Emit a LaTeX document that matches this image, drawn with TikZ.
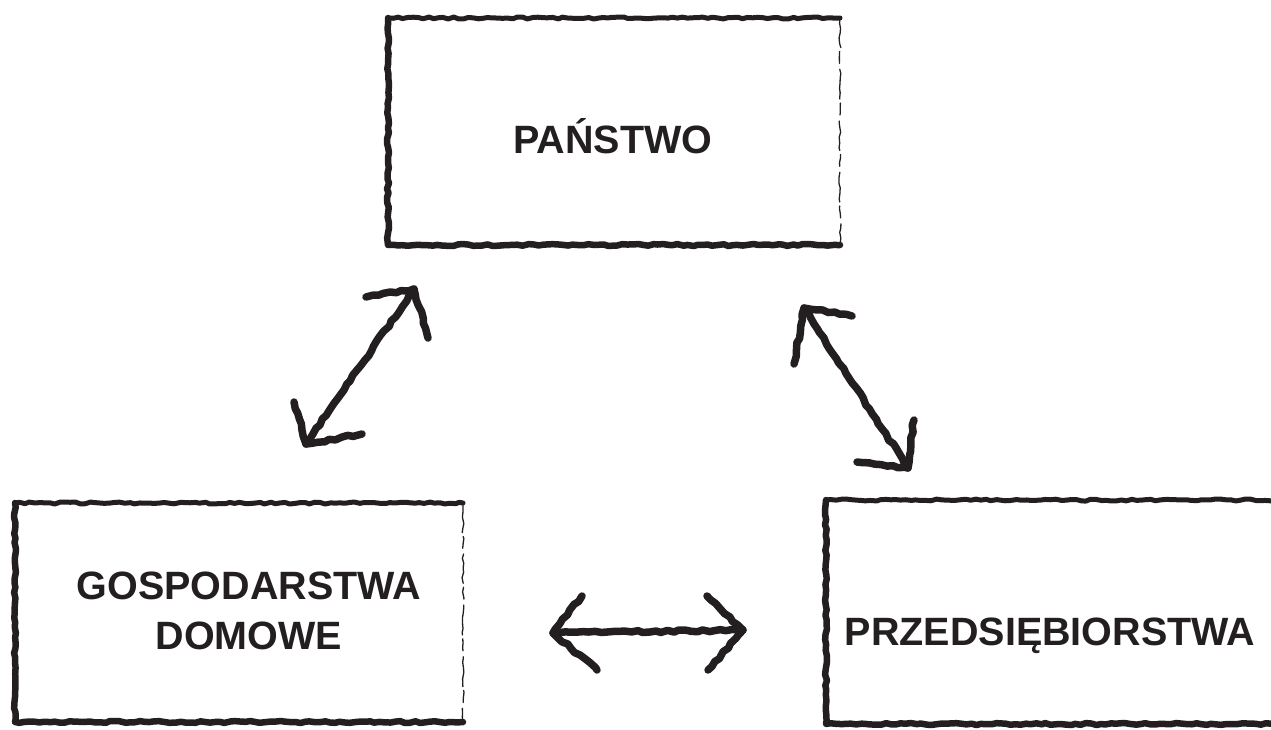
\documentclass[tikz,border=0pt]{standalone}
\usepackage{fontspec}
\setmainfont{Liberation Sans}
\usetikzlibrary{decorations.pathmorphing}
\definecolor{ink}{HTML}{231F20}
\begin{document}
\begin{tikzpicture}[x=1pt,y=-1pt,
  inkline/.style={draw=ink, line cap=round, line join=round, decorate,
    decoration={random steps, segment length=5pt, amplitude=1pt}},
  thickedge/.style={inkline, line width=6.5pt},
  topedge/.style={inkline, line width=5pt},
  thinedge/.style={inkline, line width=1.3pt, dash pattern=on 30pt off 4pt on 12pt off 6pt},
  arrowline/.style={inkline, line width=7.5pt,
    decoration={random steps, segment length=6pt, amplitude=1.2pt}},
  boxnode/.style={draw=none, inner sep=0pt, outer sep=0pt},
  lbl/.style={font=\bfseries\fontsize{39.5}{50}\selectfont, text=ink, align=center, inner sep=0pt}
]
\pgfmathsetseed{7}
\useasboundingbox (0,0) rectangle (1271,729);

% boxes
\node[boxnode, minimum width=452pt, minimum height=227pt] (pbox) at (614,131.5) {};
\node[boxnode, minimum width=448pt, minimum height=219pt] (gbox) at (239,612.5) {};
\node[boxnode, minimum width=464pt, minimum height=224pt] (fbox) at (1058,612) {};

\foreach \b in {pbox,gbox,fbox}{
  \draw[thickedge] (\b.north west) -- (\b.south west) -- (\b.south east);
  \draw[topedge] (\b.north west) -- (\b.north east);
}
\draw[thinedge] (pbox.north east) -- (pbox.south east);
\draw[thinedge] (gbox.north east) -- (gbox.south east);

% labels
\node[lbl, anchor=base] (ptext) at (613,153) {PAŃSTWO};
\node[lbl] (gtext) at (249,611) {GOSPODARSTWA\\DOMOWE};
\node[lbl, anchor=base] (ftext) at (1050,645) {PRZEDSIĘBIORSTWA};

% arrow 1
\coordinate (a1s) at (306,444);
\coordinate (a1e) at (414,289);
\coordinate (a1ea) at (366,297);
\coordinate (a1eb) at (428,338);
\coordinate (a1sa) at (294,402);
\coordinate (a1sb) at (362,434);
\draw[arrowline] (a1s) -- (a1e);
\draw[arrowline] (a1ea) -- (a1e) -- (a1eb);
\draw[arrowline] (a1sa) -- (a1s) -- (a1sb);

% arrow 2
\coordinate (a2s) at (804,308);
\coordinate (a2e) at (908,468);
\coordinate (a2sa) at (852,316);
\coordinate (a2sb) at (794,364);
\coordinate (a2ea) at (857,462);
\coordinate (a2eb) at (914,420);
\draw[arrowline] (a2s) -- (a2e);
\draw[arrowline] (a2sa) -- (a2s) -- (a2sb);
\draw[arrowline] (a2ea) -- (a2e) -- (a2eb);

% arrow 3
\coordinate (a3s) at (553,633);
\coordinate (a3e) at (743,630);
\coordinate (a3sa) at (582,596);
\coordinate (a3sb) at (597,670);
\coordinate (a3ea) at (707,596);
\coordinate (a3eb) at (708,670);
\draw[arrowline] (a3s) -- (a3e);
\draw[arrowline] (a3sa) -- (a3s) -- (a3sb);
\draw[arrowline] (a3ea) -- (a3e) -- (a3eb);
\end{tikzpicture}
\end{document}
